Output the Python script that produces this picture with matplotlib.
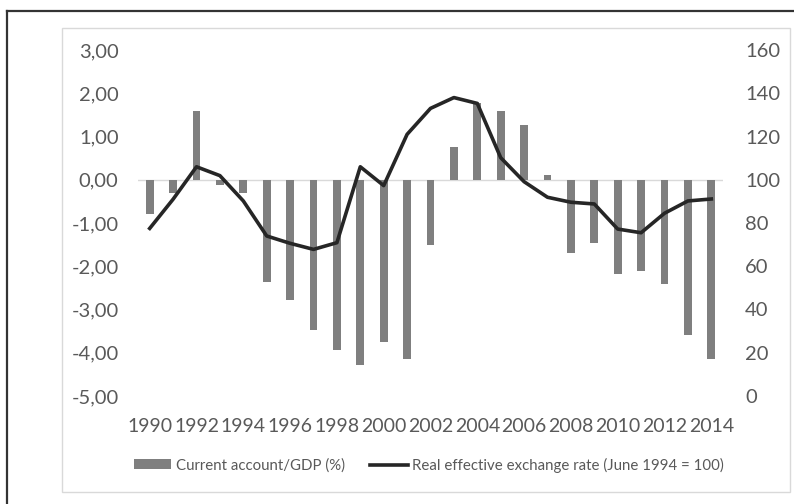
import matplotlib.pyplot as plt
import numpy as np
from matplotlib.lines import Line2D
from matplotlib.patches import Rectangle

## datos
years = list(range(1990, 2015))
current_account = [-0.80, -0.31, 1.59, -0.12, -0.31, -2.37, -2.79, -3.48, -3.94, -4.29,
                   -3.75, -4.15, -1.51, 0.76, 1.78, 1.59, 1.27, 0.12, -1.70, -1.47,
                   -2.19, -2.12, -2.40, -3.59, -4.15]
reer = [77.5, 91.0, 106.0, 101.9, 90.2, 74.0, 70.6, 67.8, 70.9, 106.0,
        97.3, 121.0, 133.0, 138.0, 135.3, 110.2, 99.1, 91.9, 89.6, 88.8,
        77.2, 75.5, 84.5, 90.2, 91.1]
left_ticks = [3, 2, 1, 0, -1, -2, -3, -4, -5]
right_ticks = [160, 140, 120, 100, 80, 60, 40, 20, 0]

plt.rcParams['font.family'] = ['Lato', 'DejaVu Sans']
txt = '#595959'

W, H = 794, 504
fig = plt.figure(figsize=(W / 100, H / 100), dpi=100)

## marcos (exterior negro, interior gris claro)
fig.add_artist(Line2D([7 / W, 7 / W], [0, 1 - 11 / H], color='#333333', lw=1.6))
fig.add_artist(Line2D([7 / W, 1], [1 - 11 / H, 1 - 11 / H], color='#333333', lw=1.6))
fig.add_artist(Rectangle((62 / W, 1 - 492 / H), (790 - 62) / W, (492 - 28) / H,
                         fill=False, edgecolor='#d9d9d9', lw=1.0))

ax1 = fig.add_axes([138 / W, 1 - 396 / H, (723 - 138) / W, (396 - 50) / H])
x = np.arange(len(years))

ax1.bar(x, current_account, width=0.33, color='#7f7f7f', label='Current account/GDP (%)', zorder=2)
ax1.axhline(0, color='#d9d9d9', lw=1.0, zorder=1)
ax1.set_ylim(-5, 3)
ax1.set_xlim(-0.5, len(years) - 0.5)
ax1.set_yticks(left_ticks)
ax1.set_yticklabels([('%.2f' % v).replace('.', ',') for v in left_ticks])
ax1.set_xticks(x[::2])
ax1.set_xticklabels([str(y) for y in years[::2]])

ax2 = ax1.twinx()
ax2.plot(x, reer, color='#262626', lw=2.6, label='Real effective exchange rate (June 1994 = 100)', zorder=3)
ax2.set_ylim(0, 160)
ax2.set_yticks(right_ticks)

for ax in (ax1, ax2):
    for s in ax.spines.values():
        s.set_visible(False)
    ax.set_facecolor('none')
ax1.tick_params(axis='y', length=0, pad=14, labelsize=14.5, labelcolor=txt)
ax1.tick_params(axis='x', length=0, pad=16, labelsize=14, labelcolor=txt)
ax2.tick_params(axis='y', length=0, pad=16, labelsize=14.5, labelcolor=txt)

h1, l1 = ax1.get_legend_handles_labels()
h2, l2 = ax2.get_legend_handles_labels()
fig.legend(h1 + h2, l1 + l2, loc='center', bbox_to_anchor=(429 / W, 1 - 465 / H), ncol=2,
           frameon=False, fontsize=10.8, labelcolor=txt, handlelength=2.5, handleheight=0.6,
           handletextpad=0.3, columnspacing=1.7)

plt.savefig('out.png', dpi=100)
